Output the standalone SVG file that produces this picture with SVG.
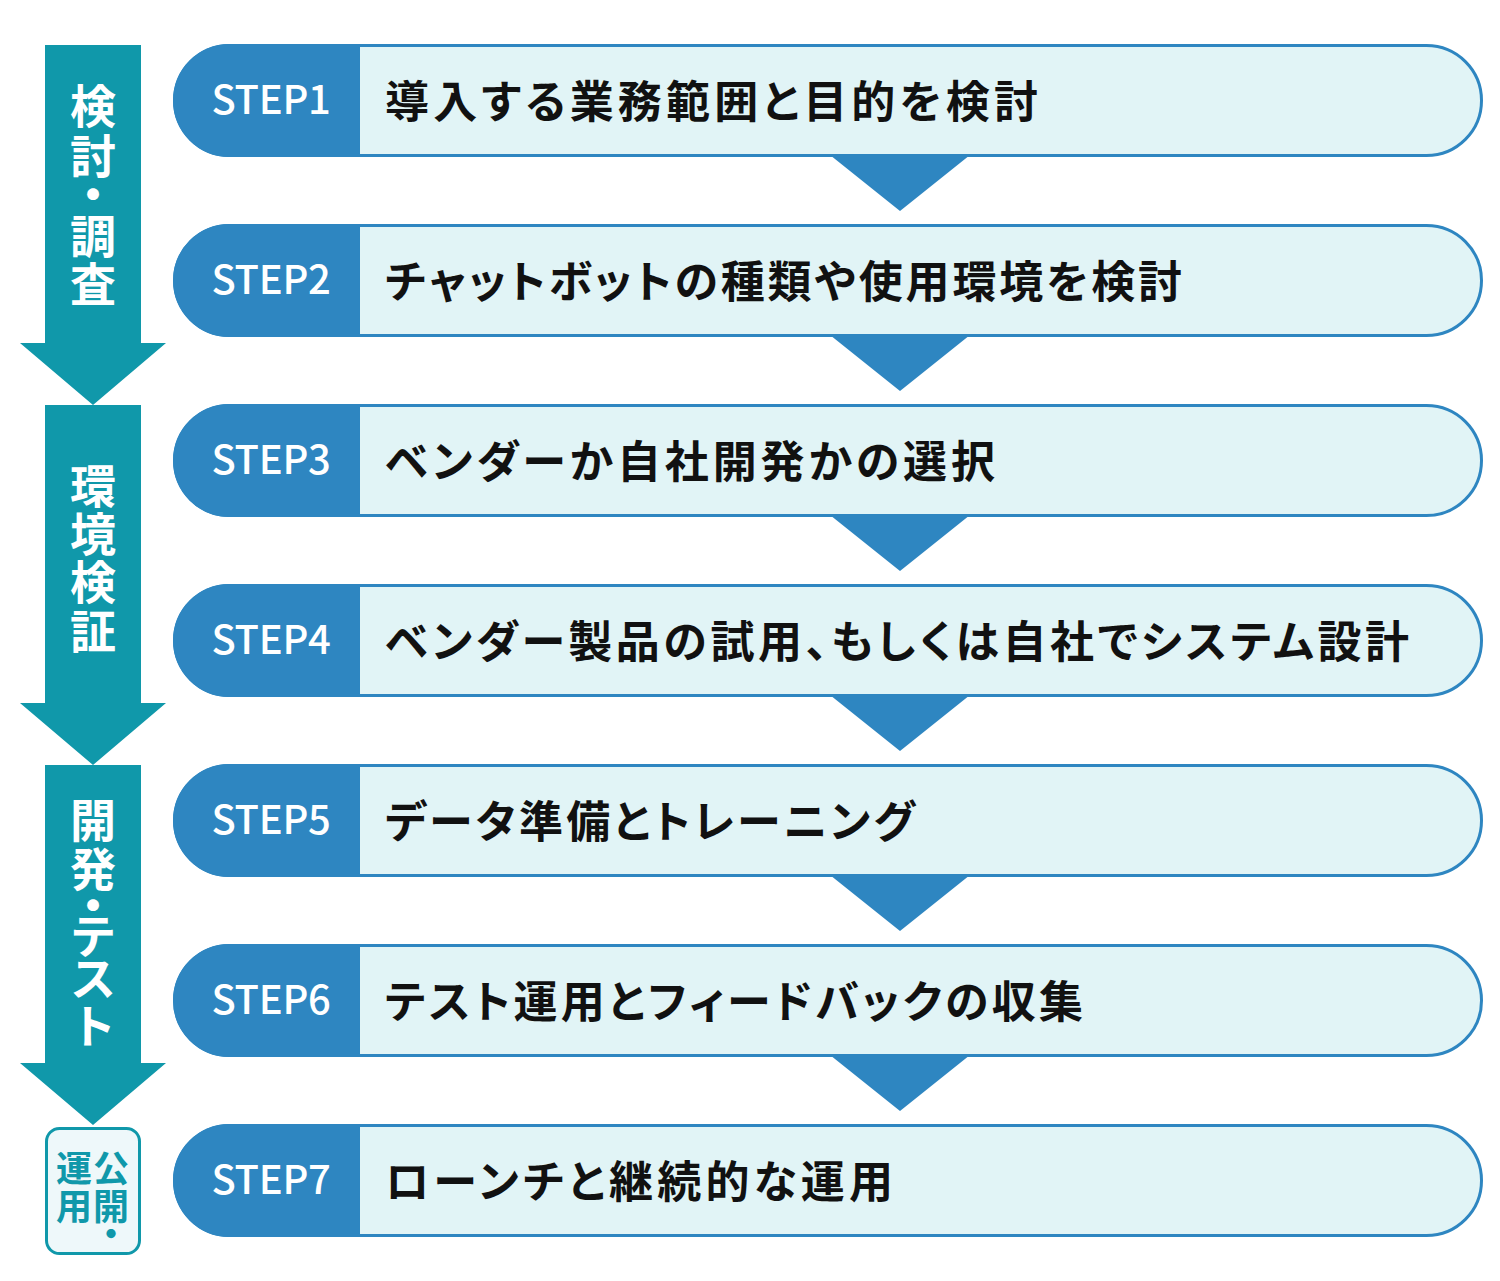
<svg xmlns="http://www.w3.org/2000/svg" width="1500" height="1281" viewBox="0 0 1500 1281">
<style>
.pill{fill:#e1f4f6;stroke:#2e86c1;stroke-width:3}
.pillhead{fill:#2e86c1}
.tri{fill:#2e86c1}
.phase{fill:#1098aa}
.step{font-family:"Noto Sans CJK JP","Noto Sans",sans-serif;font-size:40px;font-weight:500;fill:#ffffff;text-anchor:middle;letter-spacing:-0.3px}
.main{font-family:"Noto Sans CJK JP",sans-serif;font-size:44px;font-weight:700;fill:#111111;letter-spacing:4px;font-feature-settings:"palt"}
.vl{font-family:"Noto Sans CJK JP",sans-serif;font-size:46px;font-weight:700;fill:#ffffff;text-anchor:middle}
.box{fill:#eef8fa;stroke:#1098aa;stroke-width:3}
.bl{font-family:"Noto Sans CJK JP",sans-serif;font-size:36px;font-weight:700;fill:#1098aa;text-anchor:middle}
</style>
<rect width="1500" height="1281" fill="#ffffff"/>

<g id="phase1">
<path class="phase" d="M45,45 H141 V343 H166 L93,405 L20,343 H45 Z"/>
<text class="vl"><tspan x="93" y="123">検</tspan><tspan x="93" y="173">討</tspan><tspan x="93" y="211">・</tspan><tspan x="93" y="253">調</tspan><tspan x="93" y="301">査</tspan></text>
</g>
<g id="phase2">
<path class="phase" d="M45,405 H141 V703 H166 L93,765 L20,703 H45 Z"/>
<text class="vl"><tspan x="93" y="503">環</tspan><tspan x="93" y="551">境</tspan><tspan x="93" y="599">検</tspan><tspan x="93" y="648">証</tspan></text>
</g>
<g id="phase3">
<path class="phase" d="M45,765 H141 V1063 H166 L93,1125 L20,1063 H45 Z"/>
<text class="vl"><tspan x="93" y="837">開</tspan><tspan x="93" y="886">発</tspan><tspan x="93" y="922">・</tspan><tspan x="93" y="953">テ</tspan><tspan x="93" y="995">ス</tspan><tspan x="93" y="1043">ト</tspan></text>
</g>
<g id="phase4">
<rect class="box" x="46.5" y="1128.5" width="93" height="125" rx="13"/>
<text class="bl"><tspan x="111" y="1182">公</tspan><tspan x="111" y="1220">開</tspan><tspan x="111" y="1248">・</tspan></text>
<text class="bl"><tspan x="74" y="1182">運</tspan><tspan x="74" y="1220">用</tspan></text>
</g>

<g id="connectors">
<polygon class="tri" points="830,155 970,155 900,211"/>
<polygon class="tri" points="830,335 970,335 900,391"/>
<polygon class="tri" points="830,515 970,515 900,571"/>
<polygon class="tri" points="830,695 970,695 900,751"/>
<polygon class="tri" points="830,875 970,875 900,931"/>
<polygon class="tri" points="830,1055 970,1055 900,1111"/>
</g>

<g id="step1">
<rect class="pill" x="174.5" y="45.5" width="1307" height="110" rx="55"/>
<path class="pillhead" d="M360,44 H229.5 A56.5,56.5 0 0 0 229.5,157 H360 Z"/>
<text class="step" x="271" y="114">STEP1</text>
<text class="main" x="385" y="118" textLength="657" lengthAdjust="spacing">導入する業務範囲と目的を検討</text>
</g>
<g id="step2">
<rect class="pill" x="174.5" y="225.5" width="1307" height="110" rx="55"/>
<path class="pillhead" d="M360,224 H229.5 A56.5,56.5 0 0 0 229.5,337 H360 Z"/>
<text class="step" x="271" y="294">STEP2</text>
<text class="main" x="385" y="298" textLength="801" lengthAdjust="spacing">チャットボットの種類や使用環境を検討</text>
</g>
<g id="step3">
<rect class="pill" x="174.5" y="405.5" width="1307" height="110" rx="55"/>
<path class="pillhead" d="M360,404 H229.5 A56.5,56.5 0 0 0 229.5,517 H360 Z"/>
<text class="step" x="271" y="474">STEP3</text>
<text class="main" x="385" y="478" textLength="614" lengthAdjust="spacing">ベンダーか自社開発かの選択</text>
</g>
<g id="step4">
<rect class="pill" x="174.5" y="585.5" width="1307" height="110" rx="55"/>
<path class="pillhead" d="M360,584 H229.5 A56.5,56.5 0 0 0 229.5,697 H360 Z"/>
<text class="step" x="271" y="654">STEP4</text>
<text class="main" x="385" y="658" textLength="1028" lengthAdjust="spacing">ベンダー製品の試用、もしくは自社でシステム設計</text>
</g>
<g id="step5">
<rect class="pill" x="174.5" y="765.5" width="1307" height="110" rx="55"/>
<path class="pillhead" d="M360,764 H229.5 A56.5,56.5 0 0 0 229.5,877 H360 Z"/>
<text class="step" x="271" y="834">STEP5</text>
<text class="main" x="385" y="838" textLength="534" lengthAdjust="spacing">データ準備とトレーニング</text>
</g>
<g id="step6">
<rect class="pill" x="174.5" y="945.5" width="1307" height="110" rx="55"/>
<path class="pillhead" d="M360,944 H229.5 A56.5,56.5 0 0 0 229.5,1057 H360 Z"/>
<text class="step" x="271" y="1014">STEP6</text>
<text class="main" x="385" y="1018" textLength="702" lengthAdjust="spacing">テスト運用とフィードバックの収集</text>
</g>
<g id="step7">
<rect class="pill" x="174.5" y="1125.5" width="1307" height="110" rx="55"/>
<path class="pillhead" d="M360,1124 H229.5 A56.5,56.5 0 0 0 229.5,1237 H360 Z"/>
<text class="step" x="271" y="1194">STEP7</text>
<text class="main" x="385" y="1198" textLength="512" lengthAdjust="spacing">ローンチと継続的な運用</text>
</g>
</svg>
